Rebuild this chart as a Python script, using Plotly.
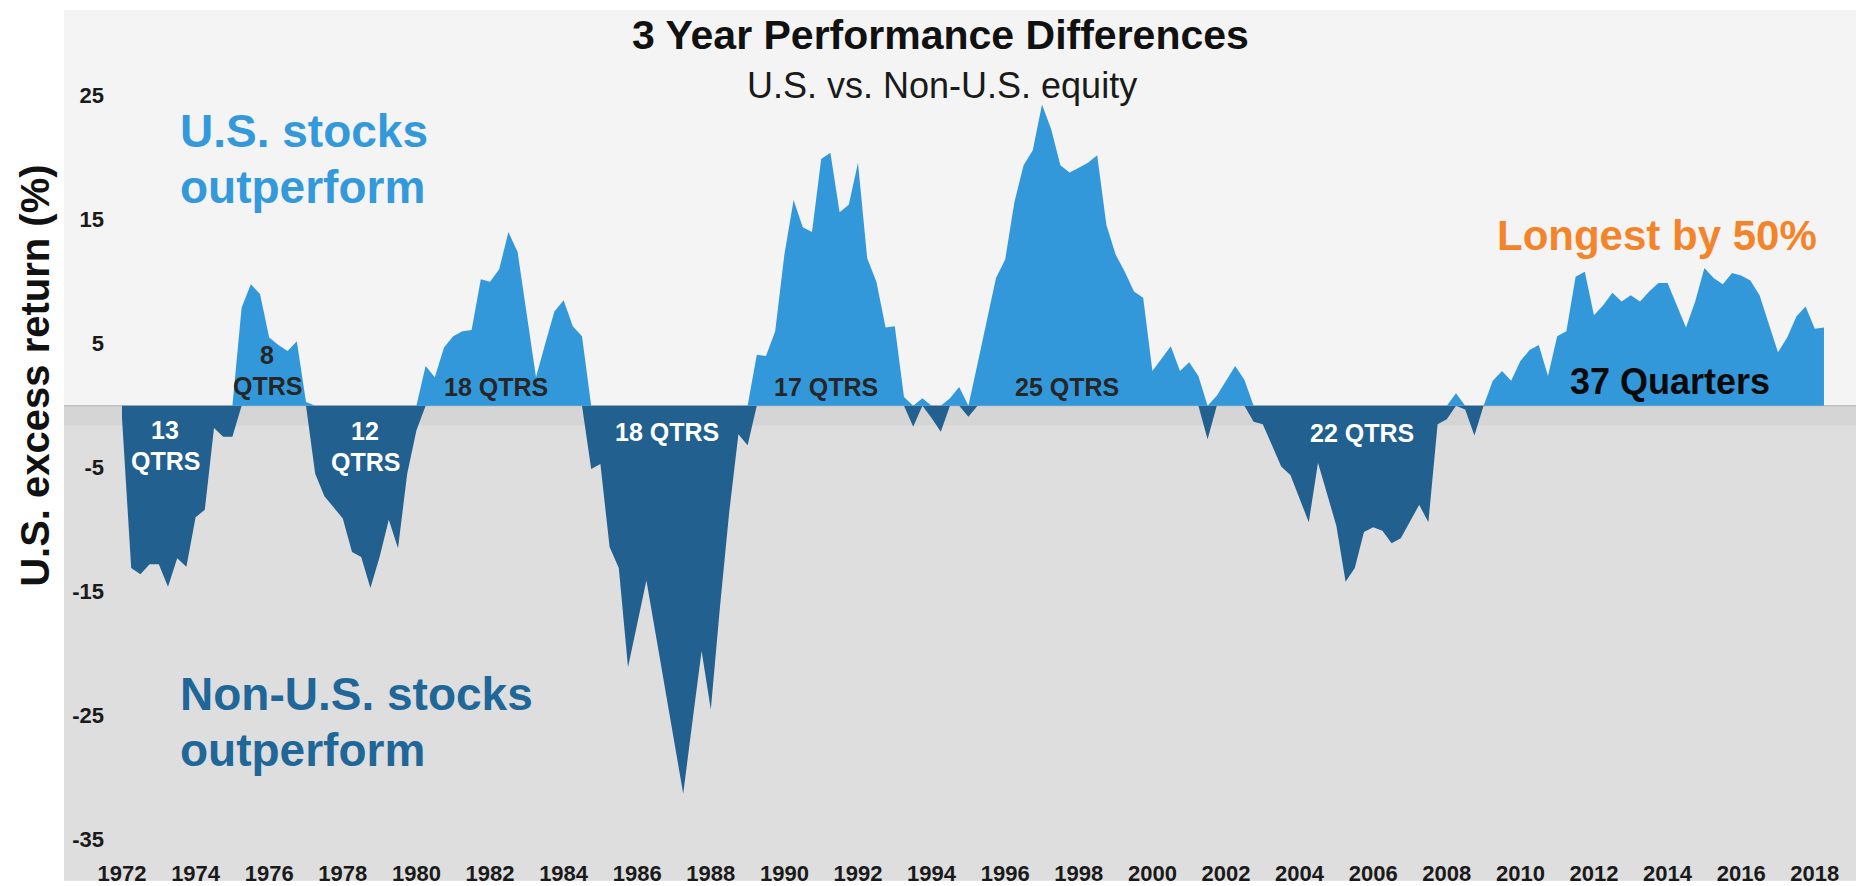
import plotly.graph_objects as go

# ---------------- data (quarterly, 3-year US minus non-US excess return, %) ----------------
start_year = 1972
excess_1970s = [-1.0, -13.1, -13.6, -12.8, -12.8, -14.6, -12.3, -13.0, -9.0, -8.4, -1.8, -2.5,
                -2.5, 7.9, 9.8, 9.0, 5.5, 4.9, 4.4, 5.2, 0.3, -5.5, -7.3, -8.2,
                -9.1, -11.8, -12.2, -14.7, -12.2, -9.2, -11.5, -5.5]
excess_1980s = [-2.0, 3.2, 2.3, 4.7, 5.6, 6.0, 6.1, 10.2, 10.0, 11.0, 14.0, 12.4,
                7.5, 2.3, 5.0, 7.6, 8.5, 6.4, 5.6, -5.1, -4.7, -11.4, -13.1, -21.1,
                -17.5, -14.1, -18.4, -22.7, -27.0, -31.3, -25.5, -19.8, -24.5, -16.2, -8.6, -2.3,
                -3.2, 4.1, 4.0, 6.0]
excess_1990s = [12.2, 16.6, 14.4, 14.0, 19.9, 20.4, 15.6, 16.2, 19.6, 11.9, 10.0, 6.3,
                6.4, 0.7, -1.7, 0.6, -1.0, -2.1, 0.6, 1.5, -0.9, 3.4, 6.8, 10.3,
                11.8, 16.4, 19.4, 20.6, 24.3, 22.3, 19.4, 18.8, 19.2, 19.6, 20.2, 14.6,
                12.2, 10.8, 9.2, 8.7]
excess_2000s = [2.8, 3.8, 4.8, 2.8, 3.5, 2.4, -2.7, 0.8, 2.0, 3.2, 2.1, -1.3,
                -1.5, -3.2, -4.9, -5.6, -7.5, -9.4, -4.6, -7.2, -9.7, -14.2, -13.1, -10.2,
                -9.8, -10.1, -11.1, -10.7, -9.3, -8.0, -9.4, -1.5, -1.1, 1.0, -0.3, -2.4,
                0.0, 2.0, 2.8, 2.0]
excess_2010s = [3.6, 4.5, 4.9, 2.4, 5.6, 6.0, 10.4, 10.8, 7.3, 8.1, 9.1, 8.4,
                8.9, 8.4, 9.2, 9.9, 9.9, 8.1, 6.3, 8.4, 11.1, 10.3, 9.8, 10.7,
                10.5, 10.1, 8.9, 6.6, 4.3, 5.5, 7.2, 8.0, 6.2, 6.3]

x_tick_years = list(range(1972, 2019, 2))
x_tick_labels = [str(y) for y in x_tick_years]
y_tick_values = [-35, -25, -15, -5, 5, 15, 25]
y_tick_labels = [str(v) for v in y_tick_values]

values = excess_1970s + excess_1980s + excess_1990s + excess_2000s + excess_2010s
quarters = [start_year + i / 4 for i in range(len(values))]
us_outperf = [v if v > 0 else 0 for v in values]
nonus_outperf = [v if v < 0 else 0 for v in values]

# ---------------- styling ----------------
W, H = 1856, 886
ML, MR, MT, MB = 105, 0, 10, 23
PW, PH = W - ML - MR, H - MT - MB
X_RANGE = [1971.538, 2019.120]
Y_RANGE = [-36.488, 31.917]

LIGHT = "#3398da"
DARK = "#21608f"
FONT = "Arial, 'Liberation Sans', sans-serif"


def px_x(px):
    return (px - ML) / PW


def px_y(py):
    return (H - MB - py) / PH


zero_paper = (0 - Y_RANGE[0]) / (Y_RANGE[1] - Y_RANGE[0])
band_paper = (-1.6 - Y_RANGE[0]) / (Y_RANGE[1] - Y_RANGE[0])

fig = go.Figure()
fig.add_trace(go.Scatter(x=quarters, y=nonus_outperf, mode="lines", fill="tozeroy",
                         line=dict(width=0, color=DARK), fillcolor=DARK, hoverinfo="skip"))
fig.add_trace(go.Scatter(x=quarters, y=us_outperf, mode="lines", fill="tozeroy",
                         line=dict(width=0, color=LIGHT), fillcolor=LIGHT, hoverinfo="skip"))

shapes = [
    dict(type="rect", xref="paper", yref="paper", x0=px_x(64), x1=1, y0=zero_paper, y1=1,
         fillcolor="#f4f4f4", line=dict(width=0), layer="below"),
    dict(type="rect", xref="paper", yref="paper", x0=px_x(64), x1=1, y0=px_y(H), y1=zero_paper,
         fillcolor="#dedede", line=dict(width=0), layer="below"),
    dict(type="rect", xref="paper", yref="paper", x0=px_x(64), x1=1, y0=band_paper, y1=zero_paper,
         fillcolor="#d5d5d5", line=dict(width=0), layer="below"),
    dict(type="line", xref="paper", yref="paper", x0=px_x(64), x1=1, y0=zero_paper, y1=zero_paper,
         line=dict(width=1.5, color="#c2c2c2"), layer="below"),
]


def ann(text, x, y, size, color, bold=True, xanchor="center", angle=0):
    return dict(text=text, xref="paper", yref="paper", x=px_x(x), y=px_y(y),
                xanchor=xanchor, yanchor="middle", showarrow=False, textangle=angle,
                font=dict(family=FONT, size=size, color=color, weight="bold" if bold else "normal"))


annotations = [
    ann("3 Year Performance Differences", 940, 35, 41, "#111111"),
    ann("U.S. vs. Non-U.S. equity", 942, 86, 36, "#1a1a1a", bold=False),
    ann("U.S. excess return (%)", 35, 378, 40, "#111111", angle=-90),
    ann("U.S. stocks", 178, 132, 46, "#3399db", xanchor="left"),
    ann("outperform", 178, 188, 46, "#3399db", xanchor="left"),
    ann("Non-U.S. stocks", 178, 698, 46, "#1f6799", xanchor="left"),
    ann("outperform", 178, 754, 46, "#1f6799", xanchor="left"),
    ann("Longest by 50%", 1657, 237, 42, "#f4842a"),
    ann("37 Quarters", 1670, 384, 36, "#0a0a0a"),
    ann("13", 165, 432, 25, "white"),
    ann("QTRS", 165, 464, 25, "white"),
    ann("8", 267, 357, 25, "#262626"),
    ann("QTRS", 267, 388, 25, "#262626"),
    ann("12", 365, 433, 25, "white"),
    ann("QTRS", 365, 465, 25, "white"),
    ann("18 QTRS", 496, 389, 25, "#262626"),
    ann("18 QTRS", 667, 434, 25, "white"),
    ann("17 QTRS", 826, 389, 25, "#262626"),
    ann("25 QTRS", 1067, 389, 25, "#262626"),
    ann("22 QTRS", 1362, 435, 25, "white"),
]

tickfont = dict(family=FONT, size=22, color="#1a1a1a", weight="bold")
fig.update_layout(
    width=W, height=H,
    margin=dict(l=ML, r=MR, t=MT, b=MB, pad=0),
    paper_bgcolor="white", plot_bgcolor="rgba(0,0,0,0)",
    showlegend=False, shapes=shapes, annotations=annotations,
    xaxis=dict(range=X_RANGE, tickmode="array", tickvals=x_tick_years, ticktext=x_tick_labels,
               showgrid=False, zeroline=False, showline=False, ticks="", tickfont=tickfont,
               fixedrange=True),
    yaxis=dict(range=Y_RANGE, tickmode="array", tickvals=y_tick_values, ticktext=y_tick_labels,
               showgrid=False, zeroline=False, showline=False, ticks="", tickfont=tickfont,
               fixedrange=True),
)

fig.write_html("out.html", config={"displayModeBar": False},
               post_script="document.body.style.margin='0';document.body.style.overflow='hidden';")
